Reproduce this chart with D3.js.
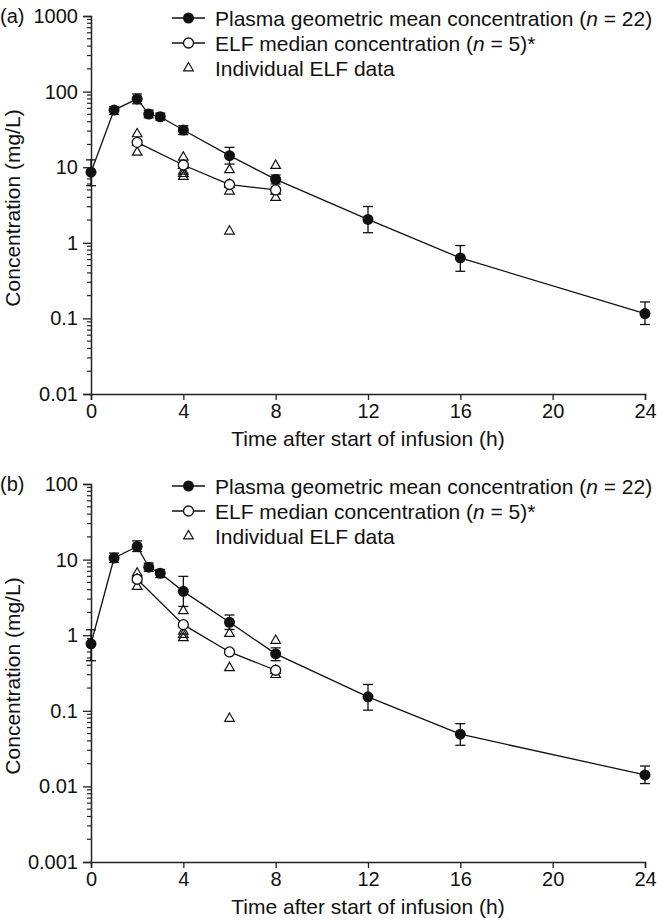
<!DOCTYPE html>
<html>
<head>
<meta charset="utf-8">
<script src="https://cdn.jsdelivr.net/npm/d3@7"></script>
<style>
  body { margin: 0; background: white; }
  text { font-family: "Liberation Sans", Arial, sans-serif; fill: #111; }
</style>
</head>
<body>
<svg id="chart"></svg>
<script>
// sampling times (h)
let plasmaTimes = [0, 1, 2, 2.5, 3, 4, 6, 8, 12, 16, 24]
let elfTimes = [2, 4, 6, 8]

// panel (a)
let plasmaA = [8.6, 57, 80, 50.5, 46.5, 31, 14.2, 6.9, 2.04, 0.63, 0.116]
let plasmaALo = [5.7, 50, 69, 45, 42, 27, 11, 6.0, 1.36, 0.42, 0.083]
let plasmaAHi = [12.5, 63, 93, 57, 52, 35.4, 18.3, 7.9, 3.02, 0.92, 0.165]
let elfMedianA = [21.3, 10.7, 5.9, 5.0]
let elfIndivA = [
    [2, 27.5], [2, 21.3], [2, 15.7],
    [4, 13.5], [4, 10.5], [4, 8.8], [4, 8.2], [4, 7.5],
    [6, 9.2], [6, 5.9], [6, 4.8], [6, 1.42],
    [8, 10.5], [8, 4.8], [8, 3.95]
]

// panel (b)
let plasmaB = [0.77, 10.5, 14.9, 7.95, 6.6, 3.8, 1.48, 0.566, 0.153, 0.049, 0.0142]
let plasmaBLo = [0.46, 9.2, 12.8, 7.0, 5.8, 2.4, 1.19, 0.46, 0.102, 0.035, 0.0109]
let plasmaBHi = [1.18, 12.2, 17.7, 9.0, 7.4, 6.0, 1.85, 0.68, 0.223, 0.0676, 0.0186]
let elfMedianB = [5.5, 1.38, 0.6, 0.344]
let elfIndivB = [
    [2, 6.6], [2, 5.5], [2, 4.4],
    [4, 2.1], [4, 1.12], [4, 1.02], [4, 0.92],
    [6, 1.05], [6, 0.37], [6, 0.079],
    [8, 0.85], [8, 0.34], [8, 0.30]
]

let xTicks = [0, 4, 8, 12, 16, 20, 24]
let legendLabels = [
    ['Plasma geometric mean concentration (', 'n', ' = 22)'],
    ['ELF median concentration (', 'n', ' = 5)*'],
    ['Individual ELF data', '', '']
]

let width = 657
let height = 923

let svg = d3.select('#chart')
    .attr('width', width)
    .attr('height', height)

let x = d3.scaleLinear().domain([0, 24]).range([91, 645])

function drawPanel(opt) {
    let g = svg.append('g').attr('transform', `translate(0,${opt.top})`)

    let y = d3.scaleLog().domain(opt.domain).range([opt.bottom, 0])

    let decades = []
    for (let e = Math.log10(opt.domain[0]); e <= Math.log10(opt.domain[1]); e++) {
        decades.push(Math.pow(10, e))
    }
    let minors = []
    decades.slice(0, -1).forEach(d => {
        for (let k = 2; k <= 9; k++) minors.push(d * k)
    })

    // y axis
    let yAxis = g.append('g').attr('transform', `translate(${x(0)},0)`)
    yAxis.call(d3.axisLeft(y).tickValues(decades).tickSize(8).tickPadding(5)
        .tickFormat(d => d3.format('~g')(d)))
    yAxis.append('g').selectAll('line').data(minors).enter()
        .append('line')
        .attr('x1', -4).attr('x2', 0)
        .attr('y1', d => y(d)).attr('y2', d => y(d))
        .attr('stroke', '#222').attr('stroke-width', 1.2)

    // x axis
    let xAxis = g.append('g').attr('transform', `translate(0,${opt.bottom})`)
    xAxis.call(d3.axisBottom(x).tickValues(xTicks).tickSize(6).tickPadding(4))

    g.selectAll('.domain').attr('stroke', '#222').attr('stroke-width', 1.5)
    g.selectAll('.tick line').attr('stroke', '#222').attr('stroke-width', 1.3)
    g.selectAll('.tick text').attr('font-size', 20)
        .attr('font-family', '"Liberation Sans", Arial, sans-serif').attr('fill', '#111')

    // titles
    g.append('text')
        .attr('x', (x(0) + x(24)) / 2).attr('y', opt.bottom + 52)
        .attr('text-anchor', 'middle').attr('font-size', 21)
        .text('Time after start of infusion (h)')
    g.append('text')
        .attr('transform', `translate(20,${opt.bottom / 2 + 3}) rotate(-90)`)
        .attr('text-anchor', 'middle').attr('font-size', 21)
        .text('Concentration (mg/L)')
    g.append('text')
        .attr('x', 0).attr('y', 7)
        .attr('font-size', 20)
        .text(opt.label)

    let line = d3.line().x(d => x(d[0])).y(d => y(d[1]))

    let plasma = plasmaTimes.map((t, i) => ({t: t, v: opt.plasma[i], lo: opt.lo[i], hi: opt.hi[i]}))
    let median = elfTimes.map((t, i) => [t, opt.median[i]])

    // lines
    g.append('path').datum(plasma.map(d => [d.t, d.v]))
        .attr('d', line).attr('fill', 'none').attr('stroke', '#111').attr('stroke-width', 1.3)
    g.append('path').datum(median)
        .attr('d', line).attr('fill', 'none').attr('stroke', '#111').attr('stroke-width', 1.3)

    // individual ELF triangles
    g.selectAll('.tri').data(opt.indiv).enter()
        .append('path')
        .attr('class', 'tri')
        .attr('transform', d => `translate(${x(d[0])},${y(d[1])})`)
        .attr('d', d3.symbol().type(d3.symbolTriangle).size(40))
        .attr('fill', 'white').attr('fill-opacity', 0)
        .attr('stroke', '#111').attr('stroke-width', 1.2)

    // error bars
    let err = g.selectAll('.err').data(plasma).enter()
        .append('g').attr('class', 'err')
    err.append('line')
        .attr('x1', d => x(d.t)).attr('x2', d => x(d.t))
        .attr('y1', d => y(d.lo)).attr('y2', d => y(d.hi))
    err.append('line')
        .attr('x1', d => x(d.t) - 5).attr('x2', d => x(d.t) + 5)
        .attr('y1', d => y(d.lo)).attr('y2', d => y(d.lo))
    err.append('line')
        .attr('x1', d => x(d.t) - 5).attr('x2', d => x(d.t) + 5)
        .attr('y1', d => y(d.hi)).attr('y2', d => y(d.hi))
    err.selectAll('line').attr('stroke', '#111').attr('stroke-width', 1.3)

    // median circles
    g.selectAll('.med').data(median).enter()
        .append('circle')
        .attr('cx', d => x(d[0])).attr('cy', d => y(d[1])).attr('r', 5)
        .attr('fill', 'white').attr('stroke', '#111').attr('stroke-width', 1.3)

    // plasma circles
    g.selectAll('.pl').data(plasma).enter()
        .append('circle')
        .attr('cx', d => x(d.t)).attr('cy', d => y(d.v)).attr('r', 5.5)
        .attr('fill', '#111')

    // legend
    let leg = g.append('g').attr('transform', 'translate(172,2)')
    let rows = leg.selectAll('.row').data(legendLabels).enter()
        .append('g')
        .attr('transform', (d, i) => `translate(0,${i * 25})`)
    rows.filter((d, i) => i < 2).append('line')
        .attr('x1', 0).attr('x2', 33).attr('y1', 0).attr('y2', 0)
        .attr('stroke', '#111').attr('stroke-width', 1.3)
    rows.each(function(d, i) {
        let r = d3.select(this)
        if (i == 0) r.append('circle').attr('cx', 16.5).attr('r', 5.5).attr('fill', '#111')
        else if (i == 1) r.append('circle').attr('cx', 16.5).attr('r', 5)
            .attr('fill', 'white').attr('stroke', '#111').attr('stroke-width', 1.3)
        else r.append('path').attr('transform', 'translate(16.5,0)')
            .attr('d', d3.symbol().type(d3.symbolTriangle).size(40))
            .attr('fill', 'none').attr('stroke', '#111').attr('stroke-width', 1.2)
        let t = r.append('text').attr('x', 43).attr('y', 7.5).attr('font-size', 21)
        t.append('tspan').text(d[0])
        t.append('tspan').attr('font-style', 'italic').text(d[1])
        t.append('tspan').text(d[2])
    })
}

drawPanel({
    label: '(a)', top: 16, bottom: 378, domain: [0.01, 1000],
    plasma: plasmaA, lo: plasmaALo, hi: plasmaAHi,
    median: elfMedianA, indiv: elfIndivA
})

drawPanel({
    label: '(b)', top: 484, bottom: 378, domain: [0.001, 100],
    plasma: plasmaB, lo: plasmaBLo, hi: plasmaBHi,
    median: elfMedianB, indiv: elfIndivB
})
</script>
</body>
</html>
